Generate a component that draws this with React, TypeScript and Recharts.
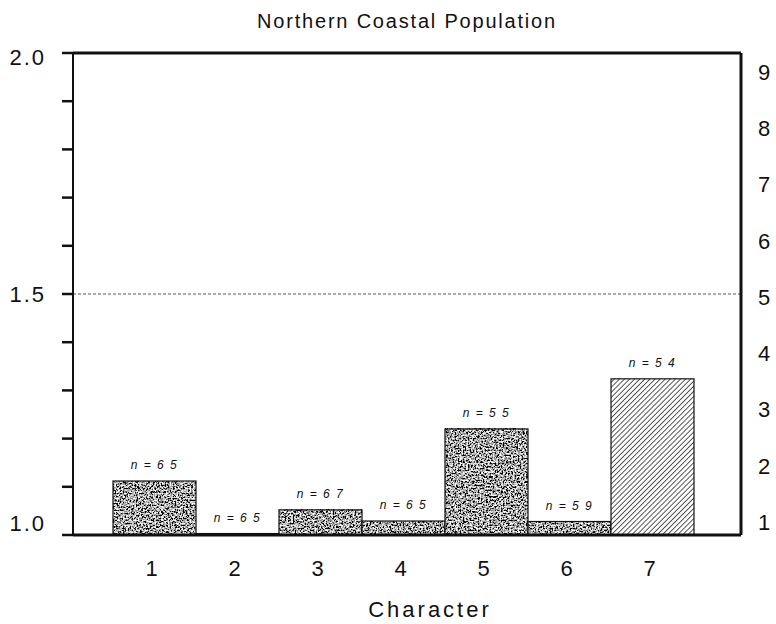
import { Bar, BarChart, LabelList, ReferenceLine, XAxis, YAxis } from 'recharts';

// chart values
const categories = ['1', '2', '3', '4', '5', '6', '7'];
const means = [1.112, 1.003, 1.052, 1.029, 1.22, 1.028, 1.324];
const sampleSizes = [65, 65, 67, 65, 55, 59, 54];
const fillKinds = ['speckle', 'speckle', 'speckle', 'speckle', 'speckle', 'speckle', 'hatch'];

const leftTicks = [1.0, 1.1, 1.2, 1.3, 1.4, 1.5, 1.6, 1.7, 1.8, 1.9, 2.0];
const leftLabelled = [1.0, 1.5, 2.0];
const rightTicks = [1, 2, 3, 4, 5, 6, 7, 8, 9];

const FONT = '"Liberation Sans", Arial, Helvetica, sans-serif';

const data = categories.map((c, i) => ({
	character: c,
	mean: means[i],
	n: sampleSizes[i],
	kind: fillKinds[i],
}));

const BarShape = (props: any) => {
	const { x, y, width, height, payload } = props;
	if (!height || height <= 0) return null;
	const kind = payload?.kind;
	return (
		<g>
			{kind === 'hatch' ? (
				<rect x={x} y={y} width={width} height={height} fill='url(#hatch)' />
			) : (
				<rect x={x} y={y} width={width} height={height} fill='#888' filter='url(#speckle)' />
			)}
			<rect x={x} y={y} width={width} height={height} fill='none' stroke='#111' strokeWidth={1.2} />
		</g>
	);
};

const NLabel = (props: any) => {
	const { x, y, width, value } = props;
	const txt = `n = ${String(value).split('').join(' ')}`;
	return (
		<text
			x={x + width / 2}
			y={y - 12}
			textAnchor='middle'
			fontSize={12}
			fontStyle='italic'
			fontFamily={FONT}
			letterSpacing={1.5}
			fill='#111'>
			{txt}
		</text>
	);
};

// left axis labels sit a little off their ticks at the ends in the original
const LeftTick = (props: any) => {
	const { x, y, payload } = props;
	const v = payload.value;
	if (!leftLabelled.some((l) => Math.abs(l - v) < 1e-6)) return null;
	const shift = Math.abs(v - 1) < 1e-6 ? -12 : Math.abs(v - 2) < 1e-6 ? 4 : 0;
	return (
		<text
			x={x}
			y={y + shift}
			dy='0.36em'
			textAnchor='end'
			fontSize={22}
			fontFamily={FONT}
			letterSpacing={2}
			fill='#111'>
			{v.toFixed(1)}
		</text>
	);
};

export default function App() {
	return (
		<div style={{ position: 'absolute', left: 0, top: 0, width: 776, height: 624, background: '#fff' }}>
			<svg width={0} height={0} style={{ position: 'absolute' }}>
				<defs>
					<filter id='speckle' x='0' y='0' width='100%' height='100%'>
						<feTurbulence type='fractalNoise' baseFrequency='0.6' numOctaves={5} seed={11} />
						<feColorMatrix
							type='matrix'
							values='3.2 0 0 0 -1.2  3.2 0 0 0 -1.2  3.2 0 0 0 -1.2  0 0 0 0 1'
						/>
					</filter>
					<pattern
						id='hatch'
						patternUnits='userSpaceOnUse'
						width={3.6}
						height={3.6}
						patternTransform='rotate(45)'>
						<rect width={3.6} height={3.6} fill='#fff' />
						<line x1={0} y1={0} x2={0} y2={3.6} stroke='#111' strokeWidth={1.4} />
					</pattern>
				</defs>
			</svg>

			<div
				style={{
					position: 'absolute',
					left: 73,
					top: 9,
					width: 668,
					textAlign: 'center',
					fontFamily: FONT,
					fontSize: 20,
					letterSpacing: 1.8,
					lineHeight: '24px',
					color: '#111',
				}}>
				Northern Coastal Population
			</div>

			<div
				style={{
					position: 'absolute',
					left: 330,
					top: 597,
					width: 200,
					textAlign: 'center',
					fontFamily: FONT,
					fontSize: 22,
					letterSpacing: 3,
					lineHeight: '26px',
					color: '#111',
				}}>
				Character
			</div>

			<BarChart
				width={776}
				height={624}
				data={data}
				barCategoryGap={0}
				margin={{ top: 53, right: 0, bottom: 0, left: 0 }}>
				<XAxis
					dataKey='character'
					height={89}
					padding={{ left: 40, right: 47 }}
					axisLine={{ stroke: '#111', strokeWidth: 3 }}
					tickLine={false}
					tickSize={0}
					tickMargin={25}
					tick={{ fill: '#111', fontSize: 22, fontFamily: FONT, dx: -3 }}
				/>
				<YAxis
					yAxisId='left'
					orientation='left'
					width={73}
					domain={[1, 2]}
					allowDataOverflow
					ticks={leftTicks}
					interval={0}
					axisLine={{ stroke: '#111', strokeWidth: 2 }}
					tickLine={{ stroke: '#111', strokeWidth: 2.5 }}
					tickSize={11}
					tickMargin={16}
					tick={<LeftTick />}
				/>
				<YAxis
					yAxisId='right'
					orientation='right'
					width={35}
					domain={[0.77, 9.34]}
					allowDataOverflow
					ticks={rightTicks}
					interval={0}
					axisLine={{ stroke: '#111', strokeWidth: 3 }}
					tickLine={false}
					tickSize={0}
					tickMargin={17}
					tick={{ fill: '#111', fontSize: 22, fontFamily: FONT, textAnchor: 'start' }}
				/>
				<ReferenceLine
					yAxisId='left'
					y={1.5}
					stroke='#555'
					strokeWidth={1}
					strokeDasharray='3 2'
				/>
				<ReferenceLine yAxisId='left' y={2} stroke='#111' strokeWidth={3} />
				<Bar
					yAxisId='left'
					dataKey='mean'
					shape={<BarShape />}
					isAnimationActive={false}>
					<LabelList dataKey='n' content={<NLabel />} />
				</Bar>
			</BarChart>
		</div>
	);
}
